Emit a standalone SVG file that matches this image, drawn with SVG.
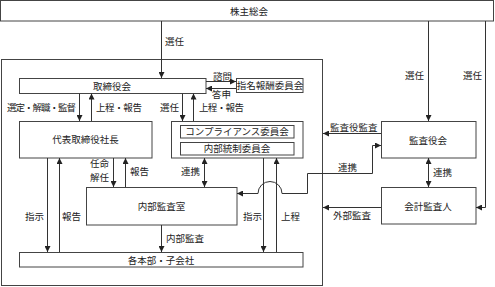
<svg xmlns="http://www.w3.org/2000/svg" width="495" height="287" viewBox="0 0 495 287">
<style>
.b{fill:#fff;stroke:#444;stroke-width:1}
.l{fill:none;stroke:#333;stroke-width:1}
.a{marker-end:url(#ah)}
.d{marker-start:url(#ah);marker-end:url(#ah)}
text{font-family:"Noto Sans CJK JP","Noto Sans CJK SC",sans-serif;font-size:9.5px;fill:#222}
.c{text-anchor:middle}
</style>
<defs>
<marker id="ah" viewBox="0 0 6 6" refX="6" refY="3" markerWidth="6" markerHeight="6" orient="auto-start-reverse" markerUnits="userSpaceOnUse"><path d="M0,0 L6,3 L0,6 z" fill="#222"/></marker>
</defs>
<rect width="495" height="287" fill="#fff"/>
<g id="company"><rect class="b" x="1.5" y="59.5" width="321" height="226" fill="none"/></g>
<g id="shareholders"><rect class="b" x="0.5" y="0.5" width="493" height="20.5"/><text class="c" x="249" y="14.5">株主総会</text></g>
<g id="board"><rect class="b" x="19.5" y="78.5" width="186.5" height="15"/><text class="c" x="112" y="89.5">取締役会</text></g>
<g id="nomination"><rect class="b" x="236.5" y="78.5" width="66.5" height="14"/><text class="c" x="270" y="89">指名報酬委員会</text></g>
<g id="president"><rect class="b" x="19.5" y="121.5" width="132.5" height="36.5"/><text class="c" x="85.5" y="142.5">代表取締役社長</text></g>
<g id="committees"><rect class="b" x="171.5" y="121.5" width="131.5" height="36.5"/>
<rect class="b" x="180.5" y="125.5" width="113.5" height="12.5"/><text class="c" x="237" y="135">コンプライアンス委員会</text>
<rect class="b" x="180.5" y="142.5" width="113.5" height="12.5"/><text class="c" x="237" y="152">内部統制委員会</text></g>
<g id="audit-office"><rect class="b" x="86.5" y="187.5" width="150.5" height="37.5"/><text class="c" x="161.5" y="209.5">内部監査室</text></g>
<g id="divisions"><rect class="b" x="19.5" y="252.5" width="283.5" height="14.5"/><text class="c" x="161" y="263.5">各本部・子会社</text></g>
<g id="auditors"><rect class="b" x="381.5" y="121.5" width="94.5" height="36.5"/><text class="c" x="428" y="143.5">監査役会</text></g>
<g id="accounting"><rect class="b" x="381.5" y="187.5" width="94.5" height="36.5"/><text class="c" x="428" y="209.5">会計監査人</text></g>
<g id="connectors">
<path class="l a" d="M161.5,21 V78"/>
<path class="l a" d="M206,81.5 H236"/>
<path class="l a" d="M236,88.5 H206"/>
<path class="l a" d="M79.5,93.5 V121"/>
<path class="l a" d="M91.5,121 V93.5"/>
<path class="l a" d="M182.5,93.5 V121"/>
<path class="l a" d="M193.5,121 V93.5"/>
<path class="l a" d="M47.5,158 V252"/>
<path class="l a" d="M59.5,252 V158"/>
<path class="l a" d="M113.5,158 V187"/>
<path class="l a" d="M125.5,187 V158"/>
<path class="l d" d="M204.5,158 V187"/>
<path class="l a" d="M161.5,225 V252"/>
<path class="l a" d="M263.5,158 V252"/>
<path class="l a" d="M276.5,252 V158"/>
<path class="l d" d="M381,145.5 H372.5 V173.5 H307.5 V193.5 H282 A12,12 0 0 0 258,193.5 H237"/>
<path class="l a" d="M381,133.5 H323"/>
<path class="l d" d="M428.5,158 V187"/>
<path class="l a" d="M381,207.5 H323"/>
<path class="l a" d="M428.5,21 V121"/>
<path class="l a" d="M485.5,21 V207.5 H476"/>
</g>
<g id="labels">
<text x="165" y="45">選任</text>
<text x="213" y="80">諮問</text>
<text x="212" y="98">答申</text>
<text x="7" y="110.5" textLength="69">選定・解職・監督</text>
<text x="96" y="110.5" textLength="46">上程・報告</text>
<text x="160" y="110.5">選任</text>
<text x="199" y="110.5" textLength="45">上程・報告</text>
<text x="90" y="167">任命</text>
<text x="90" y="181">解任</text>
<text x="130" y="174.5">報告</text>
<text x="181" y="174.5">連携</text>
<text x="25" y="219.5">指示</text>
<text x="62" y="219.5">報告</text>
<text x="243" y="219.5">指示</text>
<text x="281" y="219.5">上程</text>
<text x="166" y="241.5">内部監査</text>
<text x="338" y="170.5">連携</text>
<text x="330" y="130.5">監査役監査</text>
<text x="433" y="175.5">連携</text>
<text x="333" y="218.5">外部監査</text>
<text x="405" y="78.5">選任</text>
<text x="463" y="78.5">選任</text>
</g>
</svg>
